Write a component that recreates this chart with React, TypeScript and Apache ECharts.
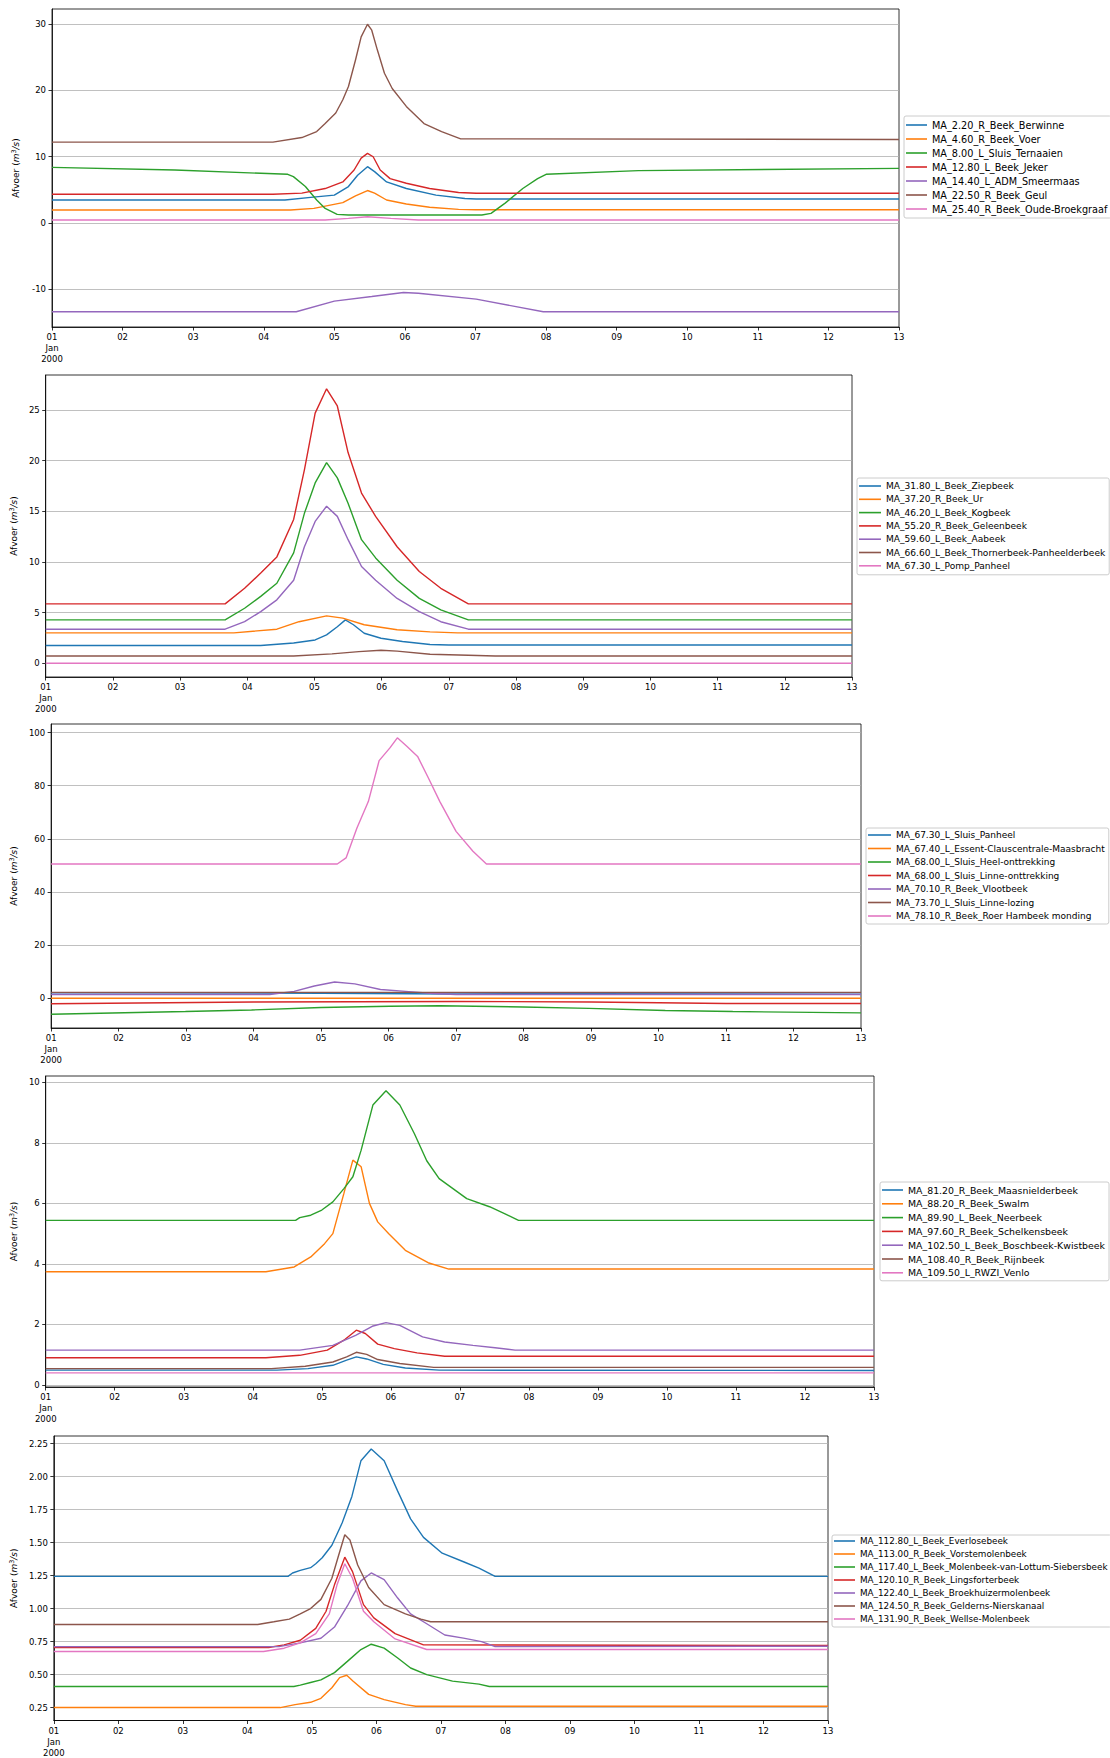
import React, { useEffect, useRef } from 'react';
import * as echarts from 'echarts';

const COLORS = ['#1f77b4', '#ff7f0e', '#2ca02c', '#d62728', '#9467bd', '#8c564b', '#e377c2'];
const DAY_LABELS = ['01', '02', '03', '04', '05', '06', '07', '08', '09', '10', '11', '12', '13'];
const FONT = 'DejaVu Sans';

type Pt = [number, number];

// ---------- Panel 1 ----------
const P1_NAMES = [
  'MA_2.20_R_Beek_Berwinne',
  'MA_4.60_R_Beek_Voer',
  'MA_8.00_L_Sluis_Ternaaien',
  'MA_12.80_L_Beek_Jeker',
  'MA_14.40_L_ADM_Smeermaas',
  'MA_22.50_R_Beek_Geul',
  'MA_25.40_R_Beek_Oude-Broekgraaf',
];
const p1Berwinne: Pt[] = [[0, 3.47], [3.3, 3.47], [3.7, 3.9], [4.0, 4.2], [4.2, 5.5], [4.33, 7.2], [4.47, 8.5], [4.57, 7.75], [4.74, 6.2], [5.02, 5.2], [5.44, 4.2], [5.85, 3.7], [6.01, 3.62], [12, 3.62]];
const p1Voer: Pt[] = [[0, 1.96], [3.38, 1.96], [3.71, 2.2], [4.12, 3.07], [4.3, 4.1], [4.47, 4.9], [4.57, 4.5], [4.74, 3.47], [5.02, 2.87], [5.35, 2.37], [5.76, 2.06], [6.0, 2.0], [12, 2.0]];
const p1Ternaaien: Pt[] = [[0, 8.4], [1.74, 8.0], [3.34, 7.35], [3.42, 7.0], [3.59, 5.5], [3.75, 3.47], [3.87, 2.2], [4.04, 1.3], [4.2, 1.2], [6.09, 1.2], [6.22, 1.45], [6.42, 3.0], [6.67, 5.2], [6.88, 6.7], [7.0, 7.35], [8.31, 7.9], [12, 8.25]];
const p1Jeker: Pt[] = [[0, 4.33], [3.13, 4.33], [3.54, 4.5], [3.87, 5.2], [4.12, 6.2], [4.28, 8.0], [4.38, 9.8], [4.47, 10.5], [4.55, 10.0], [4.65, 8.0], [4.79, 6.7], [5.02, 6.0], [5.35, 5.2], [5.76, 4.6], [6.01, 4.48], [12, 4.48]];
const p1Smeermaas: Pt[] = [[0, -13.4], [3.46, -13.4], [4.0, -11.8], [4.53, -11.1], [4.98, -10.5], [5.19, -10.6], [6.01, -11.5], [6.96, -13.4], [12, -13.4]];
const p1Geul: Pt[] = [[0, 12.2], [3.13, 12.2], [3.54, 12.9], [3.75, 13.8], [3.87, 15.0], [4.02, 16.6], [4.12, 18.6], [4.2, 20.6], [4.3, 24.6], [4.38, 28.1], [4.47, 30.0], [4.53, 29.1], [4.61, 26.1], [4.71, 22.6], [4.82, 20.3], [5.02, 17.6], [5.27, 15.0], [5.52, 13.8], [5.79, 12.7], [12, 12.6]];
const p1OudeBroekgraaf: Pt[] = [[0, 0.45], [3.87, 0.45], [4.2, 0.7], [4.47, 0.95], [4.8, 0.7], [5.19, 0.45], [12, 0.45]];
const P1_DATA = [p1Berwinne, p1Voer, p1Ternaaien, p1Jeker, p1Smeermaas, p1Geul, p1OudeBroekgraaf];
const P1_TICKS = [-10, 0, 10, 20, 30];

// ---------- Panel 2 ----------
const P2_NAMES = [
  'MA_31.80_L_Beek_Ziepbeek',
  'MA_37.20_R_Beek_Ur',
  'MA_46.20_L_Beek_Kogbeek',
  'MA_55.20_R_Beek_Geleenbeek',
  'MA_59.60_L_Beek_Aabeek',
  'MA_66.60_L_Beek_Thornerbeek-Panheelderbeek',
  'MA_67.30_L_Pomp_Panheel',
];
const p2Ziepbeek: Pt[] = [[0, 1.75], [3.2, 1.75], [3.69, 2.0], [4.01, 2.3], [4.18, 2.8], [4.34, 3.6], [4.46, 4.28], [4.58, 3.8], [4.74, 2.96], [4.99, 2.47], [5.31, 2.14], [5.72, 1.85], [6.0, 1.8], [12, 1.8]];
const p2Ur: Pt[] = [[0, 3.0], [2.8, 3.0], [3.44, 3.36], [3.77, 4.1], [4.18, 4.68], [4.42, 4.45], [4.74, 3.8], [5.23, 3.3], [5.72, 3.1], [6.13, 3.0], [12, 3.0]];
const p2Kogbeek: Pt[] = [[0, 4.28], [2.67, 4.28], [2.96, 5.43], [3.2, 6.6], [3.44, 7.9], [3.69, 10.9], [3.85, 14.8], [4.01, 17.8], [4.18, 19.8], [4.34, 18.3], [4.5, 15.8], [4.7, 12.2], [4.91, 10.4], [5.23, 8.2], [5.56, 6.4], [5.88, 5.27], [6.29, 4.28], [12, 4.28]];
const p2Geleenbeek: Pt[] = [[0, 5.86], [2.67, 5.86], [2.96, 7.4], [3.2, 8.9], [3.44, 10.5], [3.69, 14.2], [3.85, 19.1], [4.01, 24.7], [4.18, 27.1], [4.34, 25.4], [4.5, 20.8], [4.7, 16.8], [4.91, 14.5], [5.23, 11.5], [5.56, 9.06], [5.88, 7.4], [6.29, 5.86], [12, 5.86]];
const p2Aabeek: Pt[] = [[0, 3.36], [2.67, 3.36], [2.96, 4.1], [3.2, 5.1], [3.44, 6.26], [3.69, 8.2], [3.85, 11.5], [4.01, 14.0], [4.18, 15.5], [4.34, 14.5], [4.5, 12.2], [4.7, 9.55], [4.91, 8.2], [5.23, 6.4], [5.56, 5.1], [5.88, 4.1], [6.29, 3.36], [12, 3.36]];
const p2Thornerbeek: Pt[] = [[0, 0.72], [3.69, 0.72], [4.26, 0.92], [4.66, 1.15], [4.99, 1.28], [5.23, 1.19], [5.72, 0.89], [6.29, 0.79], [6.69, 0.72], [12, 0.72]];
const p2PompPanheel: Pt[] = [[0, 0], [12, 0]];
const P2_DATA = [p2Ziepbeek, p2Ur, p2Kogbeek, p2Geleenbeek, p2Aabeek, p2Thornerbeek, p2PompPanheel];
const P2_TICKS = [0, 5, 10, 15, 20, 25];

// ---------- Panel 3 ----------
const P3_NAMES = [
  'MA_67.30_L_Sluis_Panheel',
  'MA_67.40_L_Essent-Clauscentrale-Maasbracht',
  'MA_68.00_L_Sluis_Heel-onttrekking',
  'MA_68.00_L_Sluis_Linne-onttrekking',
  'MA_70.10_R_Beek_Vlootbeek',
  'MA_73.70_L_Sluis_Linne-lozing',
  'MA_78.10_R_Beek_Roer Hambeek monding',
];
const p3SluisPanheel: Pt[] = [[0, 2.0], [4, 1.9], [6, 1.6], [8, 1.9], [12, 2.0]];
const p3Essent: Pt[] = [[0, 0.0], [12, 0.0]];
const p3HeelOnttrekking: Pt[] = [[0, -6.0], [1.99, -5.0], [2.97, -4.4], [4.0, -3.5], [5.02, -3.0], [5.76, -2.8], [6.99, -3.3], [7.97, -3.8], [9.1, -4.6], [10.1, -5.0], [12, -5.5]];
const p3LinneOnttrekking: Pt[] = [[0, -2.1], [3, -1.4], [6, -1.2], [8, -1.4], [10, -2.0], [12, -2.0]];
const p3Vlootbeek: Pt[] = [[0, 1.4], [3.24, 1.4], [3.6, 2.6], [3.9, 4.6], [4.2, 6.1], [4.5, 5.4], [4.88, 3.3], [5.3, 2.5], [5.66, 1.8], [6.0, 1.4], [12, 1.4]];
const p3LinneLozing: Pt[] = [[0, 2.2], [12, 2.2]];
const p3Roer: Pt[] = [[0, 50.5], [4.24, 50.5], [4.37, 52.8], [4.53, 64], [4.7, 74], [4.86, 89.4], [5.02, 94.2], [5.13, 98.0], [5.27, 94.8], [5.43, 91], [5.59, 82.9], [5.76, 74], [6.0, 62.8], [6.25, 55.3], [6.45, 50.5], [12, 50.5]];
const P3_DATA = [p3SluisPanheel, p3Essent, p3HeelOnttrekking, p3LinneOnttrekking, p3Vlootbeek, p3LinneLozing, p3Roer];
const P3_TICKS = [0, 20, 40, 60, 80, 100];

// ---------- Panel 4 ----------
const P4_NAMES = [
  'MA_81.20_R_Beek_Maasnielderbeek',
  'MA_88.20_R_Beek_Swalm',
  'MA_89.90_L_Beek_Neerbeek',
  'MA_97.60_R_Beek_Schelkensbeek',
  'MA_102.50_L_Beek_Boschbeek-Kwistbeek',
  'MA_108.40_R_Beek_Rijnbeek',
  'MA_109.50_L_RWZI_Venlo',
];
const p4Maasnielderbeek: Pt[] = [[0, 0.49], [3.35, 0.49], [3.8, 0.54], [4.16, 0.65], [4.36, 0.82], [4.5, 0.93], [4.65, 0.86], [4.89, 0.68], [5.21, 0.56], [5.7, 0.49], [12, 0.48]];
const p4Swalm: Pt[] = [[0, 3.74], [3.19, 3.74], [3.6, 3.9], [3.84, 4.23], [4.04, 4.67], [4.16, 5.0], [4.32, 6.33], [4.45, 7.43], [4.57, 7.21], [4.69, 6.0], [4.81, 5.39], [4.97, 5.0], [5.21, 4.45], [5.54, 4.04], [5.84, 3.83], [12, 3.83]];
const p4Neerbeek: Pt[] = [[0, 5.44], [3.62, 5.44], [3.68, 5.53], [3.84, 5.61], [4.0, 5.78], [4.16, 6.05], [4.32, 6.49], [4.45, 6.88], [4.57, 7.76], [4.74, 9.25], [4.93, 9.72], [5.13, 9.25], [5.34, 8.31], [5.52, 7.41], [5.7, 6.82], [6.1, 6.16], [6.43, 5.89], [6.67, 5.64], [6.85, 5.44], [12, 5.44]];
const p4Schelkensbeek: Pt[] = [[0, 0.9], [3.19, 0.9], [3.68, 0.98], [4.08, 1.15], [4.32, 1.48], [4.5, 1.81], [4.63, 1.7], [4.81, 1.35], [5.05, 1.2], [5.38, 1.06], [5.78, 0.95], [12, 0.95]];
const p4Boschbeek: Pt[] = [[0, 1.15], [3.68, 1.15], [4.16, 1.31], [4.49, 1.64], [4.73, 1.94], [4.93, 2.06], [5.13, 1.97], [5.46, 1.59], [5.78, 1.42], [6.19, 1.31], [6.51, 1.23], [6.8, 1.15], [12, 1.15]];
const p4Rijnbeek: Pt[] = [[0, 0.54], [3.27, 0.54], [3.76, 0.62], [4.16, 0.76], [4.36, 0.93], [4.5, 1.08], [4.65, 1.01], [4.81, 0.84], [5.13, 0.71], [5.62, 0.58], [12, 0.58]];
const p4RwziVenlo: Pt[] = [[0, 0.4], [12, 0.4]];
const P4_DATA = [p4Maasnielderbeek, p4Swalm, p4Neerbeek, p4Schelkensbeek, p4Boschbeek, p4Rijnbeek, p4RwziVenlo];
const P4_TICKS = [0, 2, 4, 6, 8, 10];

// ---------- Panel 5 ----------
const P5_NAMES = [
  'MA_112.80_L_Beek_Everlosebeek',
  'MA_113.00_R_Beek_Vorstemolenbeek',
  'MA_117.40_L_Beek_Molenbeek-van-Lottum-Siebersbeek',
  'MA_120.10_R_Beek_Lingsforterbeek',
  'MA_122.40_L_Beek_Broekhuizermolenbeek',
  'MA_124.50_R_Beek_Gelderns-Nierskanaal',
  'MA_131.90_R_Beek_Wellse-Molenbeek',
];
const p5Everlosebeek: Pt[] = [[0, 1.244], [3.63, 1.244], [3.7, 1.27], [3.82, 1.29], [3.98, 1.31], [4.06, 1.34], [4.16, 1.385], [4.31, 1.48], [4.47, 1.65], [4.62, 1.85], [4.76, 2.12], [4.92, 2.21], [5.12, 2.12], [5.33, 1.89], [5.53, 1.68], [5.73, 1.54], [6.02, 1.42], [6.35, 1.355], [6.59, 1.306], [6.84, 1.244], [12, 1.244]];
const p5Vorstemolenbeek: Pt[] = [[0, 0.25], [3.51, 0.25], [3.74, 0.272], [3.98, 0.29], [4.14, 0.32], [4.31, 0.4], [4.43, 0.477], [4.54, 0.495], [4.64, 0.45], [4.88, 0.35], [5.12, 0.31], [5.45, 0.272], [5.61, 0.26], [12, 0.26]];
const p5Molenbeek: Pt[] = [[0, 0.41], [3.72, 0.41], [3.82, 0.42], [3.98, 0.44], [4.14, 0.46], [4.35, 0.515], [4.55, 0.6], [4.76, 0.69], [4.92, 0.73], [5.12, 0.7], [5.33, 0.626], [5.53, 0.55], [5.78, 0.5], [6.18, 0.45], [6.59, 0.428], [6.75, 0.41], [12, 0.41]];
const p5Lingsforterbeek: Pt[] = [[0, 0.705], [3.33, 0.705], [3.57, 0.725], [3.82, 0.76], [4.06, 0.85], [4.22, 0.98], [4.35, 1.18], [4.51, 1.39], [4.63, 1.28], [4.8, 1.03], [4.96, 0.93], [5.29, 0.81], [5.73, 0.725], [12, 0.72]];
const p5Broekhuizermolenbeek: Pt[] = [[0, 0.712], [3.49, 0.712], [3.82, 0.74], [4.14, 0.775], [4.35, 0.86], [4.55, 1.02], [4.76, 1.21], [4.92, 1.27], [5.12, 1.22], [5.33, 1.08], [5.53, 0.96], [5.78, 0.885], [6.06, 0.8], [6.35, 0.776], [6.63, 0.75], [6.84, 0.712], [12, 0.715]];
const p5Gelderns: Pt[] = [[0, 0.88], [3.16, 0.88], [3.41, 0.9], [3.65, 0.92], [3.82, 0.96], [3.98, 1.0], [4.14, 1.07], [4.31, 1.23], [4.4, 1.38], [4.51, 1.56], [4.59, 1.52], [4.71, 1.33], [4.88, 1.16], [5.12, 1.03], [5.45, 0.96], [5.69, 0.92], [5.84, 0.9], [12, 0.9]];
const p5Wellse: Pt[] = [[0, 0.675], [3.25, 0.675], [3.57, 0.7], [3.82, 0.74], [4.06, 0.81], [4.27, 0.96], [4.39, 1.18], [4.51, 1.34], [4.63, 1.23], [4.8, 0.98], [4.96, 0.9], [5.29, 0.77], [5.78, 0.69], [12, 0.69]];
const P5_DATA = [p5Everlosebeek, p5Vorstemolenbeek, p5Molenbeek, p5Lingsforterbeek, p5Broekhuizermolenbeek, p5Gelderns, p5Wellse];
const P5_TICKS = [0.25, 0.5, 0.75, 1.0, 1.25, 1.5, 1.75, 2.0, 2.25];

const PANELS = [
  {
    names: P1_NAMES, data: P1_DATA, ticks: P1_TICKS, dec: 0, yMin: -15.7, yMax: 32.3,
    grid: { left: 52, top: 9, width: 847, height: 318 }, nameGap: 31,
    legend: { left: 904, top: 116, itemWidth: 21, itemGap: 4, fontSize: 9.7, padding: [4, 4, 4, 2] },
  },
  {
    names: P2_NAMES, data: P2_DATA, ticks: P2_TICKS, dec: 0, yMin: -1.36, yMax: 28.46,
    grid: { left: 42, top: 375, width: 810, height: 302 }, nameGap: 21,
    legend: { left: 857, top: 478, itemWidth: 22, itemGap: 3.3, fontSize: 9.05, padding: [3, 4, 4, 2] },
  },
  {
    names: P3_NAMES, data: P3_DATA, ticks: P3_TICKS, dec: 0, yMin: -11.2, yMax: 103.2,
    grid: { left: 48, top: 724, width: 813, height: 304 }, nameGap: 28,
    legend: { left: 866, top: 828, itemWidth: 23, itemGap: 3.5, fontSize: 9.0, padding: [2, 4, 3, 2] },
  },
  {
    names: P4_NAMES, data: P4_DATA, ticks: P4_TICKS, dec: 0, yMin: -0.067, yMax: 10.21,
    grid: { left: 43, top: 1076, width: 831, height: 311 }, nameGap: 22,
    legend: { left: 880, top: 1182, itemWidth: 21, itemGap: 3.8, fontSize: 9.4, padding: [3, 4, 3, 2] },
  },
  {
    names: P5_NAMES, data: P5_DATA, ticks: P5_TICKS, dec: 2, yMin: 0.152, yMax: 2.308,
    grid: { left: 49, top: 1436, width: 779, height: 291 }, nameGap: 29,
    legend: { left: 832, top: 1535, itemWidth: 21, itemGap: 3, fontSize: 8.8, padding: [1, 4, 3, 2] },
  },
];

function buildOption() {
  const black = '#000';
  const grid = PANELS.map((p) => ({
    ...p.grid, show: true, borderColor: black, borderWidth: 0.8, backgroundColor: 'transparent',
  }));
  const xAxis = PANELS.map((p, i) => ({
    type: 'value', gridIndex: i, min: 0, max: 12, interval: 1,
    axisLine: { show: true, onZero: false, lineStyle: { color: black, width: 0.8 } },
    axisTick: { show: true, length: 3.5, lineStyle: { color: black, width: 0.8 } },
    splitLine: { show: false },
    axisLabel: {
      fontFamily: FONT, fontSize: 8.5, color: black, margin: 4.5, lineHeight: 11,
      formatter: (v: number) => (v === 0 ? DAY_LABELS[0] + '\nJan\n2000' : DAY_LABELS[Math.round(v)]),
    },
  }));
  const yAxis = PANELS.map((p, i) => ({
    type: 'value', gridIndex: i, min: p.yMin, max: p.yMax,
    axisLine: { show: true, onZero: false, lineStyle: { color: black, width: 0.8 } },
    axisTick: { show: true, length: 3.5, customValues: p.ticks, lineStyle: { color: black, width: 0.8 } },
    axisLabel: {
      customValues: p.ticks, fontFamily: FONT, fontSize: 8.5, color: black, margin: 6,
      formatter: (v: number) => (p.dec ? v.toFixed(p.dec) : String(Math.round(v))),
    },
    splitLine: { show: true, customValues: p.ticks, lineStyle: { color: '#b0b0b0', width: 0.8 } },
    name: 'Afvoer ({i|m}{s|3}{i|/s})',
    nameLocation: 'middle', nameGap: p.nameGap,
    nameTextStyle: {
      fontFamily: FONT, fontSize: 9, color: black,
      rich: {
        i: { fontFamily: FONT, fontSize: 9, fontStyle: 'italic', color: black },
        s: { fontFamily: FONT, fontSize: 6.5, color: black, verticalAlign: 'top', padding: [0, 0, 4, 0] },
      },
    },
  }));
  const legend = PANELS.map((p) => ({
    show: true, orient: 'vertical', left: p.legend.left, top: p.legend.top,
    data: p.names, icon: 'rect', itemWidth: p.legend.itemWidth, itemHeight: 1.6, itemGap: p.legend.itemGap,
    padding: p.legend.padding, borderColor: '#cccccc', borderWidth: 1, borderRadius: 2,
    backgroundColor: '#ffffff', selectedMode: false,
    textStyle: { fontFamily: FONT, fontSize: p.legend.fontSize, color: black, lineHeight: 10 },
  }));
  const series: any[] = [];
  PANELS.forEach((p, i) => {
    p.names.forEach((name, k) => {
      series.push({
        type: 'line', name, xAxisIndex: i, yAxisIndex: i, data: p.data[k],
        showSymbol: false, symbol: 'none', silent: true,
        color: COLORS[k], itemStyle: { color: COLORS[k] },
        lineStyle: { color: COLORS[k], width: 1.4 },
      });
    });
  });
  return { animation: false, backgroundColor: '#ffffff', grid, xAxis, yAxis, legend, series };
}

export default function App() {
  const ref = useRef<HTMLDivElement>(null);
  useEffect(() => {
    if (!ref.current) return;
    const chart = echarts.init(ref.current, undefined, { renderer: 'svg' });
    chart.setOption(buildOption() as any);
    return () => chart.dispose();
  }, []);
  return (
    <div
      ref={ref}
      style={{ position: 'absolute', left: 0, top: 0, width: 1110, height: 1758, background: '#fff' }}
    />
  );
}
